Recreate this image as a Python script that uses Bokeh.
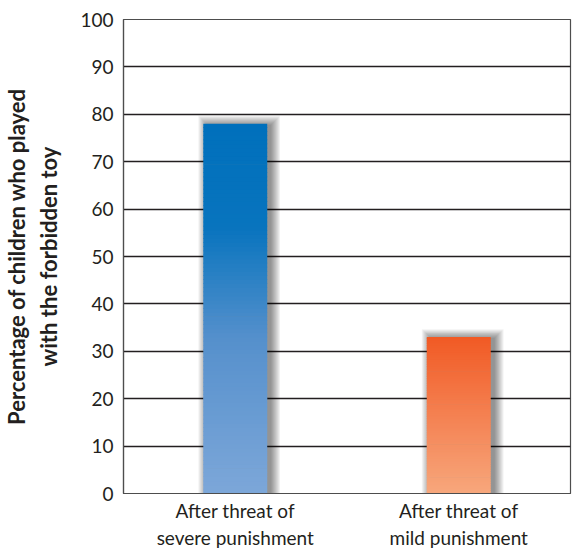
import numpy as np
from bokeh.plotting import figure
from bokeh.models import FactorRange, Range1d, FixedTicker, ColumnDataSource
from bokeh.transform import dodge
from bokeh.embed import file_html
from bokeh.resources import INLINE

# ---- data ----
categories = ["After threat of\nsevere punishment", "After threat of\nmild punishment"]
values = [78, 33]
y_ticks = [0, 10, 20, 30, 40, 50, 60, 70, 80, 90, 100]
grid_ticks = [10, 20, 30, 40, 50, 60, 70, 80, 90]
y_label = "Percentage of children who played\nwith the forbidden toy"

# ---- styles ----
FONT = "Lato"
TEXT = "#231f20"
bar_width = 0.286
gradients = [
    [(0.0, (125, 167, 217)), (0.42, (85, 144, 204)), (0.72, (8, 116, 190)), (1.0, (0, 112, 188))],
    [(0.0, (247, 167, 124)), (0.5, (244, 129, 82)), (1.0, (241, 90, 36))],
]

p = figure(width=574, height=552,
           x_range=FactorRange(factors=categories, range_padding=0),
           y_range=Range1d(0, 100),
           output_backend="svg", toolbar_location=None,
           min_border_left=118, min_border_right=4, min_border_top=19, min_border_bottom=0)
p.background_fill_color = "white"
p.border_fill_color = "white"
p.outline_line_color = "#4d4d4d"
p.outline_line_width = 1.2

# grid
p.xgrid.visible = False
p.ygrid.ticker = FixedTicker(ticks=grid_ticks)
p.ygrid.grid_line_color = TEXT
p.ygrid.grid_line_width = 1.7

# pixel size in data units (approximate frame size)
pxw = 2.0 / 452.0
pxh = 100.0 / 479.0

# shadows
for k in range(0, 10):
    src = ColumnDataSource(dict(x=categories,
                                top=[v + (k - 1) * pxh for v in values]))
    p.vbar(x=dodge("x", 4 * pxw, range=p.x_range), top="top", bottom=0,
           width=bar_width + 2 * k * pxw, source=src,
           fill_color="black", fill_alpha=0.05, line_color=None)


def interp(stops, f):
    for (f0, c0), (f1, c1) in zip(stops[:-1], stops[1:]):
        if f0 <= f <= f1:
            t = (f - f0) / (f1 - f0) if f1 > f0 else 0
            r, g, b = [int(round(a + (bb - a) * t)) for a, bb in zip(c0, c1)]
            return "#%02x%02x%02x" % (r, g, b)
    r, g, b = stops[-1][1]
    return "#%02x%02x%02x" % (r, g, b)


N = 90
for cat, v, stops in zip(categories, values, gradients):
    edges = np.linspace(0, v, N + 1)
    bottoms = edges[:-1]
    tops = np.minimum(edges[1:] + 0.15, v)
    cols = [interp(stops, (j + 0.5) / N) for j in range(N)]
    src = ColumnDataSource(dict(x=[cat] * N, bottom=bottoms, top=tops, color=cols))
    p.vbar(x="x", bottom="bottom", top="top", width=bar_width, source=src,
           fill_color="color", line_color=None)

# y axis
ya = p.yaxis[0]
ya.ticker = FixedTicker(ticks=y_ticks)
ya.major_tick_out = 0
ya.major_tick_in = 0
ya.minor_tick_out = 0
ya.minor_tick_in = 0
ya.axis_line_color = "#4d4d4d"
ya.axis_line_width = 1.2
ya.major_label_standoff = 10
ya.major_label_text_font = FONT
ya.major_label_text_font_size = "19px"
ya.major_label_text_color = TEXT
ya.axis_label = y_label
ya.axis_label_text_font = FONT
ya.axis_label_text_font_style = "bold"
ya.axis_label_text_font_size = "22px"
ya.axis_label_text_color = TEXT
ya.axis_label_text_line_height = 1.2
ya.axis_label_standoff = 15

# x axis
xa = p.xaxis[0]
xa.major_tick_out = 0
xa.major_tick_in = 0
xa.axis_line_color = "#4d4d4d"
xa.axis_line_width = 1.2
xa.major_label_standoff = 5
xa.major_label_text_font = FONT
xa.major_label_text_font_size = "19px"
xa.major_label_text_color = TEXT
xa.major_label_text_line_height = 1.2

open("out.html", "w").write(file_html(p, INLINE))
